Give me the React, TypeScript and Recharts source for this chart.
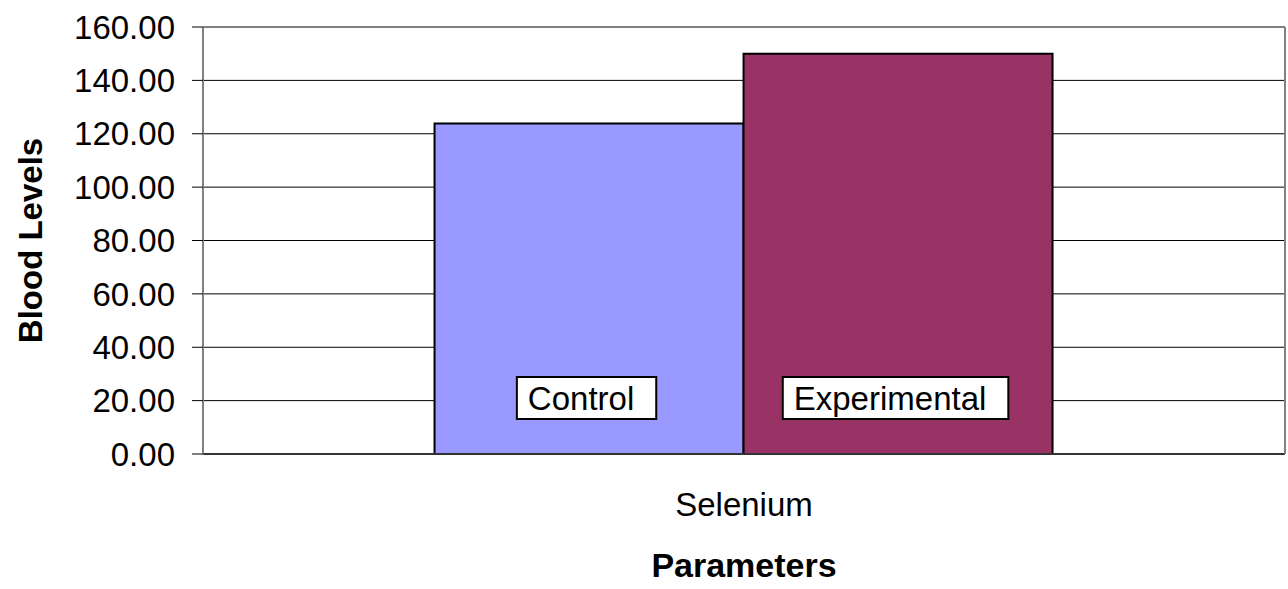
import React from 'react';
import { BarChart, Bar, XAxis, YAxis, CartesianGrid, LabelList } from 'recharts';

const categories = ['Selenium'];
const controlValues = [123.8];
const experimentalValues = [150.0];
const yTicks = [0, 20, 40, 60, 80, 100, 120, 140, 160];

const seriesNames = ['Control', 'Experimental'];
const COLORS = ['#9999FF', '#993366'];

const FONT = '"Liberation Sans", Arial, sans-serif';
const FS = 33;

// rough Arial widths (em) for sizing the boxed labels
const CHAR_W: Record<string, number> = {
  C: 0.722, E: 0.667, o: 0.556, n: 0.556, t: 0.278, r: 0.333, l: 0.222, x: 0.5,
  p: 0.556, e: 0.556, i: 0.222, m: 0.833, a: 0.556,
};
const textWidth = (s: string, size: number) =>
  s.split('').reduce((sum, ch) => sum + (CHAR_W[ch] ?? 0.556), 0) * size;

const data = categories.map((name, i) => ({
  name,
  control: controlValues[i],
  experimental: experimentalValues[i],
}));

const boxLabel = (label: string) => (props: any) => {
  const { x, y, width, height } = props;
  const w = textWidth(label, FS);
  const cx = Number(x) + Number(width) / 2 - 8;
  const cy = Number(y) + Number(height) - 56;
  const left = cx - w / 2 - 11;
  return (
    <g>
      <rect x={left} y={cy - 21} width={w + 33} height={42} fill="#fff" stroke="#000" strokeWidth={2} />
      <text x={cx} y={cy} dy="0.36em" textAnchor="middle" fontSize={FS} fontFamily={FONT} fill="#000">
        {label}
      </text>
    </g>
  );
};

const YLabel = (props: any) => {
  const vb = props.viewBox || {};
  const cy = vb.y + vb.height / 2;
  return (
    <text
      x={42}
      y={cy}
      transform={`rotate(-90 42 ${cy})`}
      textAnchor="middle"
      fontSize={FS}
      fontWeight="bold"
      fontFamily={FONT}
      fill="#000"
    >
      Blood Levels
    </text>
  );
};

export default function App() {
  return (
    <div style={{ position: 'absolute', left: 0, top: 0, background: '#fff' }}>
      <BarChart
        width={1288}
        height={589}
        data={data}
        margin={{ top: 27, right: 0, bottom: 0, left: 0 }}
        barGap={0}
        barCategoryGap="21.4%"
      >
        <CartesianGrid vertical={false} stroke="#000" strokeWidth={1} />
        <XAxis
          dataKey="name"
          height={135}
          tickSize={0}
          tickMargin={39}
          axisLine={{ stroke: '#333', strokeWidth: 2 }}
          tick={{ fontSize: FS, fontFamily: FONT, fill: '#000' }}
          label={{
            value: 'Parameters',
            position: 'insideBottom',
            offset: 12,
            fontSize: 34,
            fontWeight: 'bold',
            fontFamily: FONT,
            fill: '#000',
          }}
        />
        <YAxis
          width={203}
          domain={[0, 160]}
          ticks={yTicks}
          interval={0}
          tickSize={11}
          tickMargin={17}
          tickFormatter={(v: number) => v.toFixed(2)}
          axisLine={{ stroke: '#808080', strokeWidth: 2 }}
          tickLine={{ stroke: '#000' }}
          tick={{ fontSize: FS, fontFamily: FONT, fill: '#000' }}
          label={<YLabel />}
        />
        <YAxis
          yAxisId="right"
          orientation="right"
          width={3}
          domain={[0, 160]}
          tick={false}
          tickLine={false}
          axisLine={{ stroke: '#808080', strokeWidth: 2 }}
        />
        <Bar dataKey="control" name={seriesNames[0]} fill={COLORS[0]} stroke="#000" strokeWidth={2} isAnimationActive={false}>
          <LabelList dataKey="control" content={boxLabel(seriesNames[0])} />
        </Bar>
        <Bar dataKey="experimental" name={seriesNames[1]} fill={COLORS[1]} stroke="#000" strokeWidth={2} isAnimationActive={false}>
          <LabelList dataKey="experimental" content={boxLabel(seriesNames[1])} />
        </Bar>
      </BarChart>
    </div>
  );
}
